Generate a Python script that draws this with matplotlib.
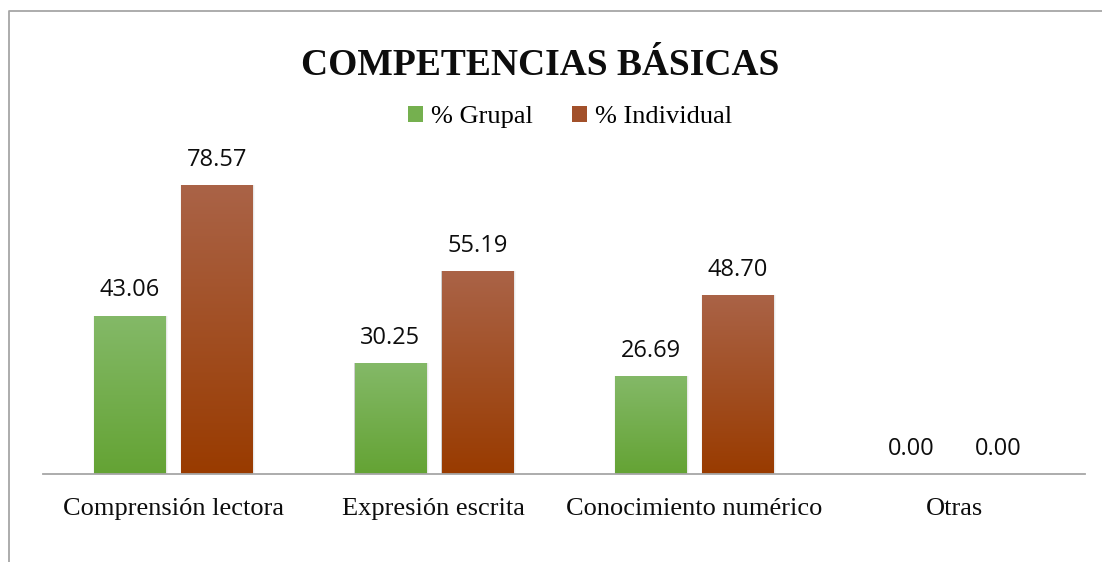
import numpy as np
import matplotlib
matplotlib.use("Agg")
import matplotlib.pyplot as plt
from matplotlib.patches import Patch, Rectangle
from matplotlib.colors import LinearSegmentedColormap
from matplotlib.lines import Line2D

categories = ["Comprensión lectora", "Expresión escrita", "Conocimiento numérico", "Otras"]
grupal = [43.06, 30.25, 26.69, 0.00]
individual = [78.57, 55.19, 48.70, 0.00]
series_names = ["% Grupal", "% Individual"]
title = "COMPETENCIAS BÁSICAS"

W, H = 1102, 562
fig = plt.figure(figsize=(W / 100, H / 100), dpi=100)
fig.patch.set_facecolor("white")

# outer frame (left and top edges visible)
frame = Line2D([9 / W, 9 / W, 1.0], [0.0, 1 - 11 / H, 1 - 11 / H],
               transform=fig.transFigure, color="#a6a6a6", lw=1.3)
fig.add_artist(frame)

ax = fig.add_axes([43 / W, 88 / H, (1085 - 43) / W, 331 / H])
ax.set_xlim(-0.5, len(categories) - 0.5)
ax.set_ylim(0, 90)

bw = 0.2726
off = 0.167
x = np.arange(len(categories))

green_cmap = LinearSegmentedColormap.from_list("g", ["#64a334", "#84b968"])
brown_cmap = LinearSegmentedColormap.from_list("b", ["#993b00", "#aa6347"])
grad = np.linspace(0, 1, 256).reshape(-1, 1)

def draw(xpos, vals, cmap):
    bars = ax.bar(xpos, vals, width=bw, color="none", edgecolor="none", zorder=3)
    for b in bars:
        h = b.get_height()
        if h <= 0:
            continue
        x0 = b.get_x()
        # soft shadow
        for k, a in enumerate([0.10, 0.06, 0.03]):
            dx = 0.003 + 0.003 * k
            sh = Rectangle((x0 - dx * 0.4, 0), b.get_width() + dx * 1.6, h,
                           facecolor="#000000", alpha=a, edgecolor="none", zorder=2)
            ax.add_patch(sh)
        im = ax.imshow(grad, cmap=cmap, extent=[x0, x0 + b.get_width(), 0, h],
                       origin="lower", aspect="auto", zorder=3, interpolation="bicubic")
        im.set_clip_path(b)
    for xi, v in zip(xpos, vals):
        ax.annotate(f"{v:.2f}", (xi, v), xytext=(0, 9.5), textcoords="offset points",
                    ha="center", va="bottom", fontsize=17, family="Open Sans",
                    color="#0d0d0d")
    return bars

draw(x - off, grupal, green_cmap)
draw(x + off, individual, brown_cmap)
ax.set_xlim(-0.5, len(categories) - 0.5)
ax.set_ylim(0, 90)

for s in ["top", "right", "left"]:
    ax.spines[s].set_visible(False)
ax.spines["bottom"].set_color("#a6a6a6")
ax.spines["bottom"].set_linewidth(1.3)
ax.spines["bottom"].set_zorder(4)
ax.set_yticks([])
ax.set_xticks(x)
ax.set_xticklabels(categories, family="Liberation Serif", fontsize=19, color="#0d0d0d")
ax.tick_params(axis="x", length=0, pad=17)
ax.patch.set_alpha(0)

fig.text(540 / W, 1 - 65.5 / H, title, ha="center", va="center",
         family="Liberation Serif", fontweight="bold", fontsize=27, color="#0d0d0d")

handles = [Patch(facecolor="#75b04f", edgecolor="none"),
           Patch(facecolor="#a2502a", edgecolor="none")]
fig.legend(handles, series_names, loc="center", bbox_to_anchor=(570 / W, 1 - 117 / H),
           ncol=2, frameon=False, prop={"family": "Liberation Serif", "size": 19},
           handlelength=0.55, handleheight=0.55, handletextpad=0.3, columnspacing=1.5,
           borderaxespad=0, borderpad=0)

fig.savefig("out.png", dpi=100, facecolor="white")
